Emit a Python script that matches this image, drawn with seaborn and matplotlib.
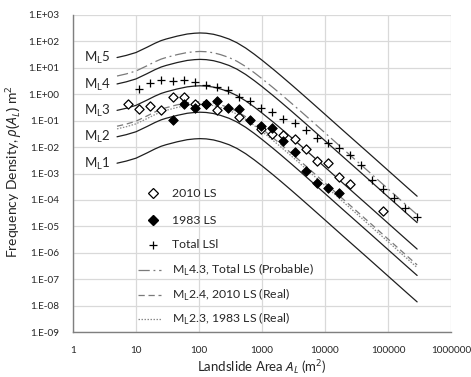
import numpy as np
import pandas as pd
import matplotlib
matplotlib.use("Agg")
import matplotlib.pyplot as plt
import seaborn as sns
from matplotlib.ticker import FixedLocator, FuncFormatter, NullLocator
from matplotlib.lines import Line2D

# ---------------- data ----------------
# model-curve sample areas (m^2) and log10 frequency density of each curve
curve_area = [5, 7, 10, 15, 20, 25, 30, 45, 65, 85, 104, 130, 170, 220, 300, 400,
              550, 750, 1000, 1500, 2000, 3000, 4000, 6000, 10000, 20000, 50000,
              100000, 200000, 290000]
ml5_log = [1.39, 1.47, 1.58, 1.78, 1.93, 2.03, 2.09, 2.20, 2.28, 2.31, 2.32, 2.31, 2.27,
           2.20, 2.09, 1.95, 1.75, 1.52, 1.29, 0.95, 0.70, 0.34, 0.08, -0.29, -0.76,
           -1.40, -2.24, -2.88, -3.52, -3.86]
ml43_log = [0.69, 0.77, 0.88, 1.08, 1.23, 1.33, 1.39, 1.50, 1.58, 1.61, 1.62, 1.61, 1.57,
            1.50, 1.39, 1.25, 1.05, 0.82, 0.59, 0.25, 0.00, -0.36, -0.62, -0.99, -1.46,
            -2.10, -2.94, -3.58, -4.22, -4.56]
ml4_log = [0.39, 0.47, 0.58, 0.78, 0.93, 1.03, 1.09, 1.20, 1.28, 1.31, 1.32, 1.31, 1.27,
           1.20, 1.09, 0.95, 0.75, 0.52, 0.29, -0.05, -0.30, -0.66, -0.92, -1.29, -1.76,
           -2.40, -3.24, -3.88, -4.52, -4.86]
ml3_log = [-0.61, -0.53, -0.42, -0.22, -0.07, 0.03, 0.09, 0.20, 0.28, 0.31, 0.32, 0.31,
           0.27, 0.20, 0.09, -0.05, -0.25, -0.48, -0.71, -1.05, -1.30, -1.66, -1.92,
           -2.29, -2.76, -3.40, -4.24, -4.88, -5.52, -5.86]
ml24_log = [-1.21, -1.13, -1.02, -0.82, -0.67, -0.57, -0.51, -0.40, -0.32, -0.29, -0.28,
            -0.29, -0.33, -0.40, -0.51, -0.65, -0.85, -1.08, -1.31, -1.65, -1.90, -2.26,
            -2.52, -2.89, -3.36, -4.00, -4.84, -5.48, -6.12, -6.46]
ml23_log = [-1.31, -1.23, -1.12, -0.92, -0.77, -0.67, -0.61, -0.50, -0.42, -0.39, -0.38,
            -0.39, -0.43, -0.50, -0.61, -0.75, -0.95, -1.18, -1.41, -1.75, -2.00, -2.36,
            -2.62, -2.99, -3.46, -4.10, -4.94, -5.58, -6.22, -6.56]
ml2_log = [-1.61, -1.53, -1.42, -1.22, -1.07, -0.97, -0.91, -0.80, -0.72, -0.69, -0.68,
           -0.69, -0.73, -0.80, -0.91, -1.05, -1.25, -1.48, -1.71, -2.05, -2.30, -2.66,
           -2.92, -3.29, -3.76, -4.40, -5.24, -5.88, -6.52, -6.86]
ml1_log = [-2.61, -2.53, -2.42, -2.22, -2.07, -1.97, -1.91, -1.80, -1.72, -1.69, -1.68,
           -1.69, -1.73, -1.80, -1.91, -2.05, -2.25, -2.48, -2.71, -3.05, -3.30, -3.66,
           -3.92, -4.29, -4.76, -5.40, -6.24, -6.88, -7.52, -7.86]

total_area = [7.5, 11.3, 16.9, 25.3, 38, 57, 85, 128, 192, 288, 432, 650, 970, 1460,
              2190, 3280, 4930, 7390, 11100, 16600, 24900, 37400, 56100, 84100,
              126000, 189000, 284000]
total_rho = [0.43, 1.57, 2.59, 3.45, 3.16, 3.37, 2.83, 2.23, 1.92, 1.51, 0.80, 0.55,
             0.29, 0.217, 0.112, 0.079, 0.044, 0.0214, 0.0138, 0.0096, 0.0051,
             0.00214, 5.8e-4, 2.6e-4, 1.22e-4, 5.1e-5, 2.17e-5]

ls2010_area = [7.5, 11.3, 16.9, 25.3, 38, 57, 85, 128, 192, 432, 970, 1460, 2190, 3280,
               4930, 7390, 11100, 16600, 24900, 84100]
ls2010_rho = [0.437, 0.275, 0.373, 0.252, 0.764, 0.784, 0.418, 0.426, 0.259, 0.133,
              0.0468, 0.0316, 0.0292, 0.0206, 0.00877, 0.0029, 0.00248, 7.6e-4,
              3.9e-4, 3.8e-5]

ls1983_area = [38, 57, 85, 128, 192, 288, 432, 650, 970, 1460, 2190, 3280, 4930, 7390,
               11100, 16600]
ls1983_rho = [0.1045, 0.437, 0.295, 0.437, 0.562, 0.300, 0.275, 0.1025, 0.0635, 0.0525,
              0.0172, 0.00664, 0.00126, 4.2e-4, 2.8e-4, 1.8e-4]

ml_labels = ["M$_\\mathrm{L}$5", "M$_\\mathrm{L}$4", "M$_\\mathrm{L}$3",
             "M$_\\mathrm{L}$2", "M$_\\mathrm{L}$1"]
ml_label_log = [1.37, 0.37, -0.63, -1.63, -2.63]

legend_labels = ["2010 LS", "1983 LS", "Total LSl",
                 "M$_\\mathrm{L}$4.3, Total LS (Probable)",
                 "M$_\\mathrm{L}$2.4, 2010 LS (Real)",
                 "M$_\\mathrm{L}$2.3, 1983 LS (Real)"]

x_ticks = [1, 10, 100, 1000, 10000, 100000, 1000000]
x_tick_labels = ["1", "10", "100", "1000", "10000", "100000", "1000000"]
y_exponents = list(range(-9, 4))

# ---------------- style ----------------
sns.set_style("white")
plt.rcParams["font.family"] = ["Lato", "DejaVu Sans"]
plt.rcParams["mathtext.fontset"] = "custom"
plt.rcParams["mathtext.rm"] = "Noto Sans"
plt.rcParams["mathtext.it"] = "Noto Sans:italic"
plt.rcParams["mathtext.bf"] = "Noto Sans:bold"
TXT = "#262626"

W, H = 471, 377
fig = plt.figure(figsize=(W / 100, H / 100), dpi=100)
ax = fig.add_axes([73 / W, 45 / H, 378 / W, 317 / H])

solid_kw = dict(color="#1f1f1f", linewidth=0.9)
dashdot_kw = dict(color="#7a7a7a", linewidth=0.9, linestyle=(0, (9, 3, 1.5, 3)))
dash_kw = dict(color="#7a7a7a", linewidth=0.9, linestyle=(0, (5, 3)))
dot_kw = dict(color="#8a8a8a", linewidth=0.9, linestyle=(0, (1.2, 1.2)))
curves = [
    (ml5_log, solid_kw), (ml4_log, solid_kw), (ml3_log, solid_kw),
    (ml2_log, solid_kw), (ml1_log, solid_kw),
    (ml43_log, dashdot_kw), (ml24_log, dash_kw), (ml23_log, dot_kw),
]
for vals, kw in curves:
    df = pd.DataFrame({"area": curve_area, "rho": np.power(10.0, vals)})
    sns.lineplot(data=df, x="area", y="rho", ax=ax, sort=False,
                 estimator=None, legend=False, **kw)

open_kw = dict(marker="D", s=22, facecolor="white", edgecolor="black", linewidth=0.9)
fill_kw = dict(marker="D", s=24, color="black", edgecolor="black", linewidth=0.6)
plus_kw = dict(marker="+", s=40, color="black", linewidth=0.9)
sns.scatterplot(x=ls2010_area, y=ls2010_rho, ax=ax, zorder=4, legend=False, **open_kw)
sns.scatterplot(x=ls1983_area, y=ls1983_rho, ax=ax, zorder=5, legend=False, **fill_kw)
sns.scatterplot(x=total_area, y=total_rho, ax=ax, zorder=3, legend=False, **plus_kw)

ax.set_xscale("log")
ax.set_yscale("log")
ax.set_xlim(1, 1e6)
ax.set_ylim(1e-9, 1e3)

ax.xaxis.set_major_locator(FixedLocator(x_ticks))
ax.xaxis.set_minor_locator(NullLocator())
ax.set_xticklabels(x_tick_labels)
ax.yaxis.set_major_locator(FixedLocator([10.0 ** e for e in y_exponents]))
ax.yaxis.set_minor_locator(NullLocator())
ax.yaxis.set_major_formatter(FuncFormatter(
    lambda v, p: "1.E{:+03d}".format(int(round(np.log10(v))))))
ax.tick_params(axis="both", length=0, labelsize=7.2, colors=TXT)
ax.tick_params(axis="x", pad=10)
ax.tick_params(axis="y", pad=10)

ax.grid(True, which="major", color="#d9d9d9", linewidth=0.9)
ax.set_axisbelow(True)
for s in ["top", "right"]:
    ax.spines[s].set_visible(False)
for s in ["left", "bottom"]:
    ax.spines[s].set_color("#7f7f7f")
    ax.spines[s].set_linewidth(1.0)

for lab, lv in zip(ml_labels, ml_label_log):
    ax.text(1.52, 10.0 ** lv, lab, fontsize=9.5, color=TXT, ha="left", va="center")

ax.set_xlabel("Landslide Area $A_L$ (m$^2$)", fontsize=9.5, color=TXT)
ax.set_ylabel("Frequency Density, $\\rho(A_L)$ m$^2$", fontsize=10, color=TXT)
ax.xaxis.set_label_coords(0.5, -0.082)
ax.yaxis.set_label_coords(-0.13, 0.505)

# ---------------- legend (drawn row by row, in figure pixels) ----------------
row_y = [193, 220, 245, 270, 295, 319]
def fx(px):
    return px / W
def fy(py):
    return 1 - py / H
marker_handles = [
    dict(marker="D", markersize=4.6, markerfacecolor="white", markeredgecolor="black",
         markeredgewidth=0.9, linestyle="none"),
    dict(marker="D", markersize=4.8, markerfacecolor="black", markeredgecolor="black",
         linestyle="none"),
    dict(marker="+", markersize=6.3, markeredgecolor="black", markeredgewidth=0.9,
         linestyle="none"),
]
for i, (lab, y) in enumerate(zip(legend_labels, row_y)):
    if i < 3:
        fig.add_artist(Line2D([fx(153)], [fy(y)], transform=fig.transFigure,
                              **marker_handles[i]))
    else:
        kw = [dashdot_kw, dash_kw, dot_kw][i - 3]
        fig.add_artist(Line2D([fx(138), fx(161)], [fy(y), fy(y)],
                              transform=fig.transFigure, **kw))
    fig.text(fx(172), fy(y), lab, fontsize=8.8, color=TXT, ha="left", va="center")

fig.savefig("out.png", dpi=100)
